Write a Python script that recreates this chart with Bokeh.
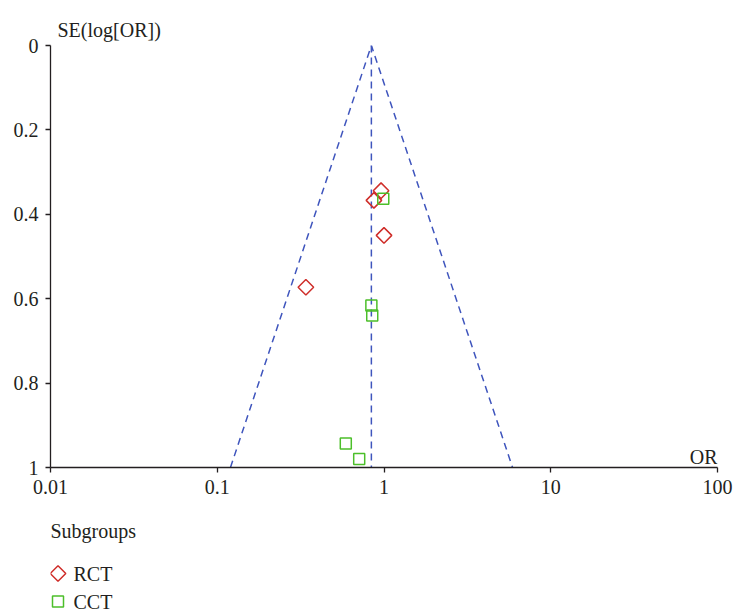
import math
from bokeh.plotting import figure
from bokeh.layouts import column
from bokeh.models import Range1d, FixedTicker, Title, ColumnDataSource
from bokeh.embed import file_html
from bokeh.resources import INLINE

# ---- data ----
rct_or = [0.96, 0.87, 1.00, 0.34]
rct_se = [0.344, 0.367, 0.450, 0.573]

cct_or = [0.99, 0.84, 0.85, 0.59, 0.71]
cct_se = [0.363, 0.616, 0.640, 0.943, 0.980]

pooled_or = 0.84
funnel_or = [0.12, 0.84, 5.9]
funnel_se = [1.0, 0.0, 1.0]

x_ticks = [0.01, 0.1, 1, 10, 100]
x_tick_labels = ["0.01", "0.1", "1", "10", "100"]
y_ticks = [0, 0.2, 0.4, 0.6, 0.8, 1]
y_tick_labels = ["0", "0.2", "0.4", "0.6", "0.8", "1"]

groups = ["RCT", "CCT"]
legend_title = "Subgroups"

FONT = "Liberation Serif"
INK = "#231f20"
RED = "#cf2e2a"
GREEN = "#4cbf2a"
BLUE = "#3f55bd"

W = 733
H1, H2 = 510, 104
LEFT, RIGHT = 50, 16

src_rct = ColumnDataSource(dict(x=rct_or, y=rct_se))
src_cct = ColumnDataSource(dict(x=cct_or, y=cct_se))

p = figure(width=W, height=H1, x_axis_type="log",
           x_range=Range1d(0.01, 100), y_range=Range1d(1, 0),
           output_backend="svg", toolbar_location=None,
           min_border_left=LEFT, min_border_right=RIGHT,
           min_border_top=45, min_border_bottom=H1 - 467)
p.outline_line_color = None
p.xgrid.visible = False
p.ygrid.visible = False

for ax in (p.xaxis[0], p.yaxis[0]):
    ax.axis_line_color = INK
    ax.axis_line_width = 1.3
    ax.major_tick_line_color = INK
    ax.major_tick_line_width = 1.3
    ax.major_tick_in = 0
    ax.major_tick_out = 5
    ax.minor_tick_line_color = None
    ax.major_label_text_font = FONT
    ax.major_label_text_font_size = "20px"
    ax.major_label_text_color = INK
    ax.major_label_standoff = 7

p.xaxis.ticker = FixedTicker(ticks=x_ticks)
p.xaxis.major_label_overrides = {t: l for t, l in zip(x_ticks, x_tick_labels)}
p.yaxis.ticker = FixedTicker(ticks=y_ticks)
p.yaxis.major_label_overrides = {t: l for t, l in zip(y_ticks, y_tick_labels)}

# y-axis caption above the plot
p.add_layout(Title(text="SE(log[OR])", align="left", offset=7,
                   text_font=FONT, text_font_size="20px",
                   text_font_style="normal", text_color=INK,
                   standoff=10), "above")

# funnel and pooled estimate
p.line(funnel_or, funnel_se, line_color=BLUE, line_width=1.5, line_dash="7 5")
p.line([pooled_or, pooled_or], [0, 1], line_color=BLUE, line_width=1.5,
       line_dash="7 5")

marker_style = dict(size=11, fill_color=None, line_width=1.5)
rct_style = dict(marker="square", angle=math.pi / 4, line_color=RED)
cct_style = dict(marker="square", line_color=GREEN)
p.scatter("x", "y", source=src_rct, **rct_style, **marker_style)
p.scatter("x", "y", source=src_cct, **cct_style, **marker_style)

# x-axis caption "OR" above the axis line, right end
p.text(x=[x_ticks[-1]], y=[y_ticks[-1]], text=["OR"], text_font=FONT,
       text_font_size="20px", text_color=INK, text_align="right",
       text_baseline="bottom")

# ---- legend strip below the plot (pixel coordinates, top = 0) ----
q = figure(width=W, height=H2, x_range=Range1d(0, W - LEFT - RIGHT),
           y_range=Range1d(H2, 0),
           output_backend="svg", toolbar_location=None,
           x_axis_location=None, y_axis_location=None,
           min_border_left=LEFT, min_border_right=RIGHT,
           min_border_top=0, min_border_bottom=0)
q.outline_line_color = None
q.xgrid.visible = False
q.ygrid.visible = False

title_y = 20
row_y = [63, 91]
key_x = 7.5
label_x = 23

q.text(x=[0], y=[title_y], text=[legend_title], text_font=FONT,
       text_font_size="20px", text_color=INK, text_align="left",
       text_baseline="middle")
q.scatter([key_x], [row_y[0]], **rct_style, **marker_style)
q.scatter([key_x], [row_y[1]], **cct_style, **marker_style)
q.text(x=[label_x, label_x], y=row_y, text=groups, text_font=FONT,
       text_font_size="20px", text_color=INK, text_align="left",
       text_baseline="middle")

layout = column(p, q, spacing=0)
open("out.html", "w").write(file_html(layout, INLINE))
